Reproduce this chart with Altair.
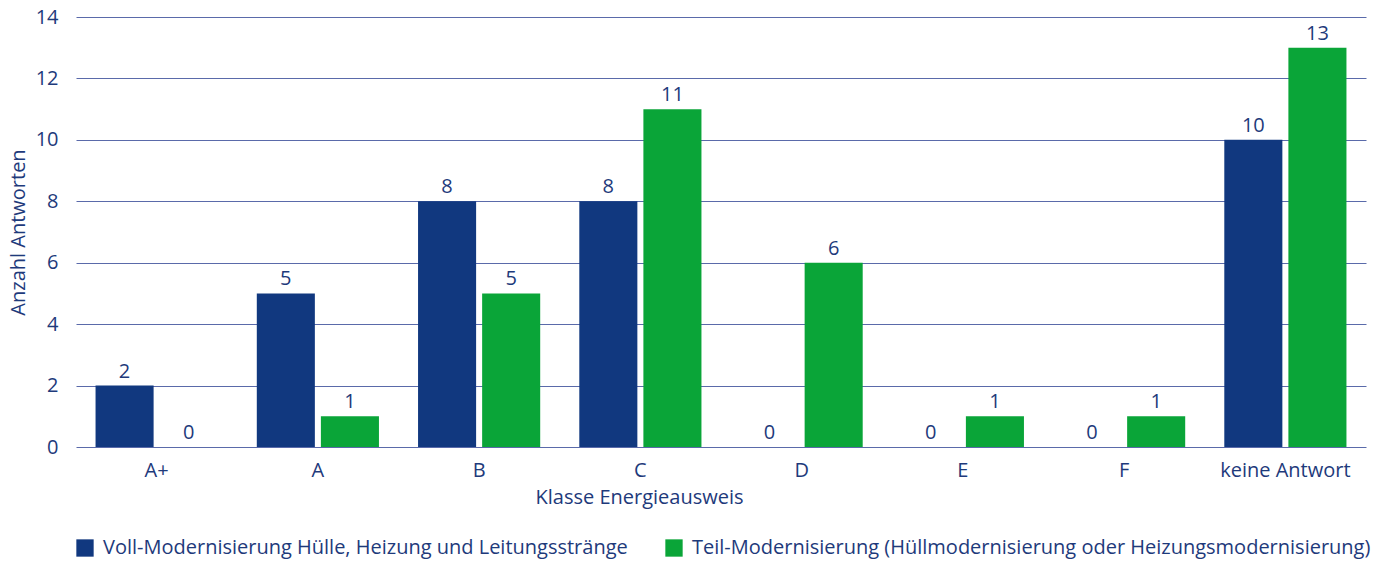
import altair as alt
import pandas as pd

# Energieausweis-Klassen und Anzahl Antworten je Modernisierungsart
klassen = ["A+", "A", "B", "C", "D", "E", "F", "keine Antwort"]
voll = [2, 5, 8, 8, 0, 0, 0, 10]
teil = [0, 1, 5, 11, 6, 1, 1, 13]
serien = [
    "Voll-Modernisierung Hülle, Heizung und Leitungsstränge",
    "Teil-Modernisierung (Hüllmodernisierung oder Heizungsmodernisierung)",
]
farben = ["#11387f", "#0aa538"]

rows = []
for k, v, t in zip(klassen, voll, teil):
    rows.append({"Klasse": k, "Serie": serien[0], "Anzahl": v})
    rows.append({"Klasse": k, "Serie": serien[1], "Anzahl": t})
df = pd.DataFrame(rows)

TEXT = "#1e3a7b"
FONT = "Open Sans"
FS = 20

x = alt.X(
    "Klasse:N",
    sort=klassen,
    scale=alt.Scale(paddingInner=0, paddingOuter=0),
    axis=alt.Axis(
        title="Klasse Energieausweis",
        labelAngle=0,
        ticks=False,
        domain=False,
        labelPadding=13,
        titleX=563,
        titleY=50,
        titleBaseline="middle",
    ),
)
xoff = alt.XOffset(
    "Serie:N",
    sort=serien,
    scale=alt.Scale(paddingInner=0.094, paddingOuter=0.305),
)
y = alt.Y(
    "Anzahl:Q",
    scale=alt.Scale(domain=[0, 14]),
    axis=alt.Axis(
        title="Anzahl Antworten",
        values=list(range(0, 15, 2)),
        ticks=False,
        domain=False,
        labelPadding=18,
        titleX=-58,
        titleBaseline="middle",
    ),
)
color = alt.Color(
    "Serie:N",
    sort=serien,
    scale=alt.Scale(domain=serien, range=farben),
    legend=alt.Legend(
        title=None,
        orient="none",
        legendX=-1,
        legendY=521,
        direction="horizontal",
        symbolType="square",
        symbolSize=300,
        symbolStrokeWidth=0,
        labelLimit=900,
        columnPadding=36,
        labelOffset=8,
    ),
)

bars = alt.Chart(df).mark_bar(opacity=1).encode(
    x=x, xOffset=xoff, y=y, color=color
)
labels = alt.Chart(df).mark_text(
    baseline="bottom", dy=-4, fontSize=FS, color=TEXT, font=FONT
).encode(
    x=x, xOffset=xoff, y=y, text="Anzahl:Q"
)

chart = (
    (bars + labels)
    .properties(
        width=1290,
        height=430,
        autosize=alt.AutoSizeParams(type="none"),
        padding={"left": 76, "top": 17, "right": 11, "bottom": 117},
    )
    .configure_view(stroke=None)
    .configure_axis(
        labelFont=FONT,
        titleFont=FONT,
        labelColor=TEXT,
        titleColor=TEXT,
        labelFontSize=FS,
        titleFontSize=FS,
        titleFontWeight="normal",
        gridColor="#5a6aaa",
        gridWidth=1,
        gridOpacity=1,
    )
    .configure_axisX(grid=False)
    .configure_legend(
        labelFont=FONT,
        labelFontSize=FS,
        labelColor=TEXT,
    )
)

chart.save("out.html", embed_options={"renderer": "svg", "actions": False})
